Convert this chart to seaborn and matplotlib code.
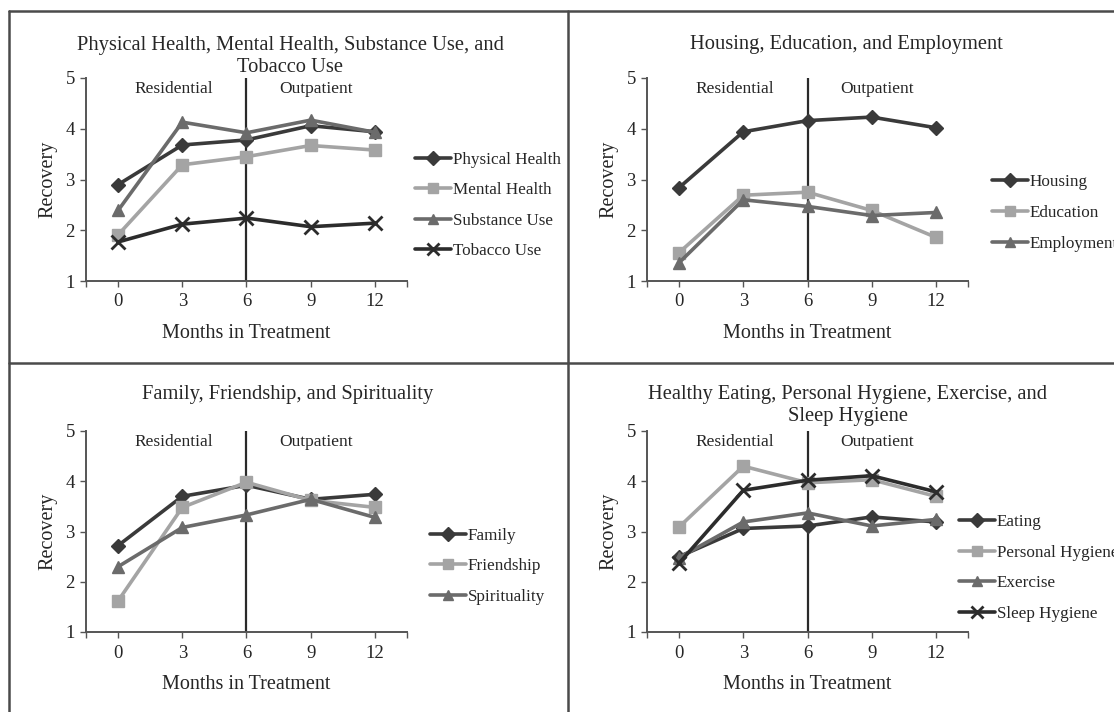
import numpy as np
import pandas as pd
import seaborn as sns
import matplotlib.pyplot as plt
from matplotlib.lines import Line2D

sns.set_theme(style="white")
plt.rcParams["font.family"] = ["Liberation Serif", "DejaVu Serif"]

months = [0, 3, 6, 9, 12]

# panel 1
physical_health = [2.90, 3.68, 3.78, 4.06, 3.94]
mental_health = [1.91, 3.29, 3.45, 3.67, 3.58]
substance_use = [2.39, 4.13, 3.92, 4.17, 3.93]
tobacco_use = [1.77, 2.12, 2.24, 2.07, 2.14]

# panel 2
housing = [2.84, 3.94, 4.16, 4.23, 4.02]
education = [1.56, 2.69, 2.75, 2.39, 1.86]
employment = [1.36, 2.60, 2.47, 2.29, 2.35]

# panel 3
family = [2.72, 3.70, 3.92, 3.64, 3.74]
friendship = [1.62, 3.48, 3.98, 3.62, 3.48]
spirituality = [2.30, 3.08, 3.33, 3.64, 3.28]

# panel 4
eating = [2.50, 3.06, 3.11, 3.29, 3.19]
personal_hygiene = [3.09, 4.30, 3.97, 4.03, 3.70]
exercise = [2.48, 3.19, 3.37, 3.11, 3.24]
sleep_hygiene = [2.37, 3.82, 4.02, 4.11, 3.79]

dark = "#3a3a3a"
light = "#a4a4a4"
mid = "#6b6b6b"
darker = "#2c2c2c"

panels = [
    {
        "title": "Physical Health, Mental Health, Substance Use, and\nTobacco Use",
        "series": {"Physical Health": physical_health, "Mental Health": mental_health,
                   "Substance Use": substance_use, "Tobacco Use": tobacco_use},
        "colors": [dark, light, mid, darker],
        "markers": ["D", "s", "^", "x"],
        "rect": [86, 78, 407, 281],
        "title_xy": (290, 56.5),
        "leg_xy": (1.025, 0.371),
    },
    {
        "title": "Housing, Education, and Employment",
        "series": {"Housing": housing, "Education": education, "Employment": employment},
        "colors": [dark, light, mid],
        "markers": ["D", "s", "^"],
        "rect": [647, 78, 968, 281],
        "title_xy": (846, 45),
        "leg_xy": (1.075, 0.335),
    },
    {
        "title": "Family, Friendship, and Spirituality",
        "series": {"Family": family, "Friendship": friendship, "Spirituality": spirituality},
        "colors": [dark, light, mid],
        "markers": ["D", "s", "^"],
        "rect": [86, 431, 407, 632],
        "title_xy": (288, 395),
        "leg_xy": (1.072, 0.328),
    },
    {
        "title": "Healthy Eating, Personal Hygiene, Exercise, and\nSleep Hygiene",
        "series": {"Eating": eating, "Personal Hygiene": personal_hygiene,
                   "Exercise": exercise, "Sleep Hygiene": sleep_hygiene},
        "colors": [dark, light, mid, darker],
        "markers": ["D", "s", "^", "x"],
        "rect": [647, 431, 968, 632],
        "title_xy": (848, 405.5),
        "leg_xy": (0.972, 0.318),
    },
]

W, H = 1114, 712
fig = plt.figure(figsize=(W / 100, H / 100), dpi=100)

marker_size = {"D": 7.5, "s": 8.5, "^": 8.5, "x": 10}
xlim = (-1.5, 13.5)


def fig_xy(px, py):
    return px / W, 1 - py / H


def draw_panel(p):
    x0, y0, x1, y1 = p["rect"]
    ax = fig.add_axes([x0 / W, 1 - y1 / H, (x1 - x0) / W, (y1 - y0) / H])
    names = list(p["series"].keys())
    handles = []
    for name, color, mk in zip(names, p["colors"], p["markers"]):
        sns.lineplot(x=months, y=p["series"][name], color=color, marker=mk,
                     markersize=marker_size[mk], markeredgecolor=color,
                     markeredgewidth=2.0 if mk == "x" else 1.0,
                     linewidth=2.6, ax=ax, zorder=3)
        handles.append(Line2D([], [], color=color, marker=mk, lw=2.6,
                              ms=marker_size[mk] * 0.9, mec=color,
                              mew=2.0 if mk == "x" else 1.0))

    ax.axvline(6, color="#2a2a2a", lw=1.6, zorder=1)
    ax.text(2.6, 4.79, "Residential", ha="center", va="center", fontsize=12.5)
    ax.text(9.25, 4.79, "Outpatient", ha="center", va="center", fontsize=12.5)

    ax.set_xlim(*xlim)
    ax.set_ylim(1, 5)
    ax.set_xticks(months)
    ax.set_xticks(list(xlim), minor=True)
    ax.set_yticks([1, 2, 3, 4, 5])
    ax.tick_params(axis="both", which="both", labelsize=13.5, length=4, width=1,
                   color="#555555", direction="out", bottom=True, left=True, pad=4)
    ax.tick_params(axis="x", pad=5)
    sns.despine(ax=ax)
    for s in ["left", "bottom"]:
        ax.spines[s].set_color("#555555")
        ax.spines[s].set_linewidth(1.4)
    ax.set_xlabel("Months in Treatment", fontsize=14.5)
    ax.set_ylabel("Recovery", fontsize=14.5)
    ax.xaxis.set_label_coords(0.5, -0.212)
    ax.yaxis.set_label_coords(-0.09, 0.5)

    ax.legend(handles, names, loc="center left", bbox_to_anchor=p["leg_xy"],
              frameon=False, fontsize=12.3, handlelength=2.1, handletextpad=0.12,
              labelspacing=0.85, borderpad=0, borderaxespad=0)

    tx, ty = fig_xy(*p["title_xy"])
    fig.text(tx, ty, p["title"], ha="center", va="center", fontsize=14.8, linespacing=1.27)
    return ax


for p in panels:
    draw_panel(p)

# chart borders
border = dict(color="#4a4a4a", lw=1.8, transform=fig.transFigure)
fig.add_artist(Line2D([9 / W, 1], [1 - 11 / H] * 2, **border))
fig.add_artist(Line2D([9 / W] * 2, [0, 1 - 11 / H], **border))
fig.add_artist(Line2D([568 / W] * 2, [0, 1 - 11 / H], **border))
fig.add_artist(Line2D([9 / W, 1], [1 - 363 / H] * 2, **border))

fig.savefig("out.png", dpi=100)
